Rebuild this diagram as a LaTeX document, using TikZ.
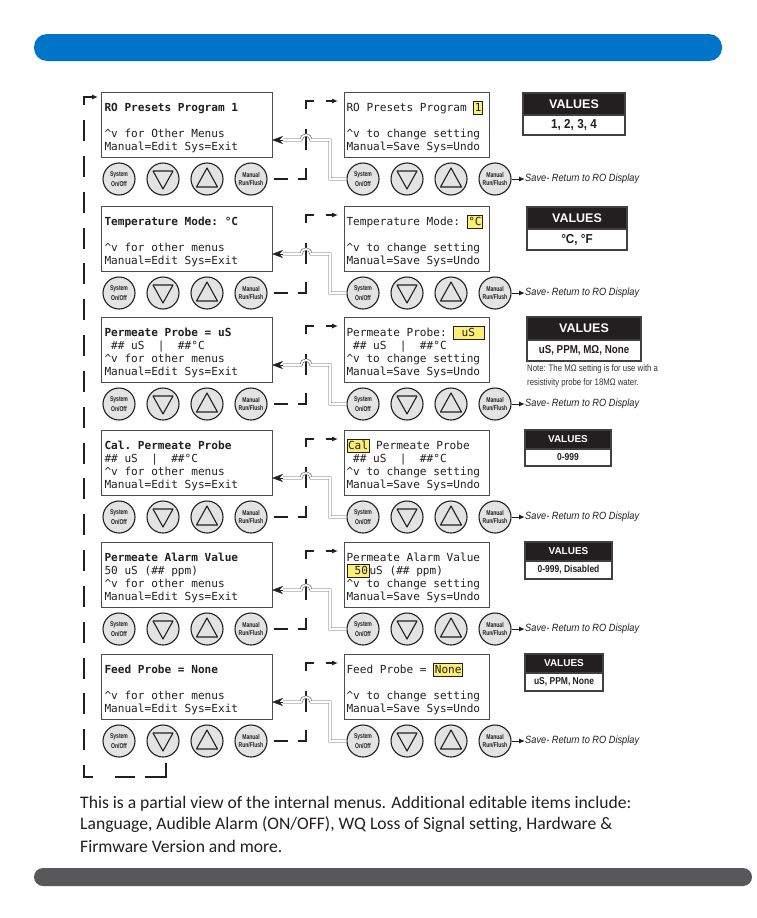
\documentclass[tikz,border=0pt]{standalone}
\usepackage{fontspec}
\setmainfont{Liberation Sans}
\newfontfamily\lcdfam{DejaVu Sans Mono}
\newfontfamily\bodyfam[Ligatures={NoCommon,NoRare,NoContextual}]{Carlito}
\usetikzlibrary{arrows.meta}
\definecolor{barblue}{HTML}{0074C8}
\definecolor{bargray}{HTML}{58585A}
\definecolor{hly}{HTML}{FBEF74}
\definecolor{btnfill}{HTML}{E3E3E3}
\definecolor{ink}{HTML}{231F20}
\definecolor{vdark}{HTML}{231F20}
\newcommand\lcdfont{\lcdfam\fontsize{11.1}{13}\selectfont}
\newcommand\lcdsp{\spaceskip=6.68pt\relax\xspaceskip=6.68pt\relax}
\newcommand\hl[1]{{\setlength\fboxsep{0.8pt}\setlength\fboxrule{0.7pt}\fcolorbox{ink}{hly}{\vphantom{Hg}#1}}}
\newcommand\cnd[2][0.85]{\scalebox{#1}[1]{#2}}
\newcommand\btnlab[2]{\cnd[0.72]{\shortstack{#1\\#2}}}
\newcommand\fl{\rule{0pt}{15pt}}
\newcommand\lastl{\rule[-3pt]{0pt}{3pt}}
\newcommand\vhbig{\bfseries\fontsize{12.5}{12.5}\selectfont}
\newcommand\vhsmall{\bfseries\fontsize{10}{10}\selectfont}
\newcommand\vvbig{\bfseries\fontsize{13}{13}\selectfont}
\newcommand\vvmid{\bfseries\fontsize{11.5}{11.5}\selectfont}
\newcommand\vvsmall{\bfseries\fontsize{10}{10}\selectfont}
\newcommand\downtri[1]{\draw[tri] ([shift={(-10,-8)}]#1.center) -- ([shift={(10,-8)}]#1.center) -- ([shift={(0,10)}]#1.center) -- cycle;}
\newcommand\uptri[1]{\draw[tri] ([shift={(-10.5,8)}]#1.center) -- ([shift={(10.5,8)}]#1.center) -- ([shift={(0,-11)}]#1.center) -- cycle;}
\newcommand\menurow[2]{%
 \node[btn] (L#1a) at (119,#2+87) {\btnlab{System}{On/Off}};
 \node[btn] (L#1b) at (163,#2+87) {};
 \node[btn] (L#1c) at (207,#2+87) {};
 \node[btn] (L#1d) at (251,#2+87) {\btnlab{Manual}{Run/Flush}};
 \node[btn] (R#1a) at (363,#2+87) {\btnlab{System}{On/Off}};
 \node[btn] (R#1b) at (407,#2+87) {};
 \node[btn] (R#1c) at (451,#2+87) {};
 \node[btn] (R#1d) at (495,#2+87) {\btnlab{Manual}{Run/Flush}};
 \downtri{L#1b}\uptri{L#1c}\downtri{R#1b}\uptri{R#1c}
 \coordinate (in#1) at (338,#2+9);
 \draw[brk] (L#1d.east) -- (306,#2+87) -- (306,#2+9) -- (in#1);
 \coordinate (h#1) at (283,#2+48);
 \draw[dbl] (R#1a.west) -- (330,#2+87) -- (330,#2+48) -- (311,#2+48) arc[start angle=0,end angle=180,radius=5pt] -- (h#1);
 \draw[tipst] (h#1) -- (h#1 -| L#1.east);
 \node[savetxt] (S#1) at (525,#2+87) {\cnd[0.88]{Save- Return to RO Display}};
 \draw[savearr] (R#1d.east) -- (S#1.west);
}
\begin{document}
\begin{tikzpicture}[x=1pt,y=-1pt,
 lpan/.style={draw=black!70, line width=0.9pt, anchor=north west, minimum height=65pt, text width=164pt, inner xsep=3.5pt, inner ysep=0pt, align=left, font=\lcdfont, text=ink, outer sep=0pt},
 rpan/.style={lpan, text width=140pt, inner xsep=2.5pt},
 btn/.style={circle, draw=ink, line width=1.1pt, fill=btnfill, minimum size=32pt, inner sep=0pt, font=\bfseries\fontsize{7}{7.4}\selectfont, text=ink},
 tri/.style={draw=ink, line width=1.1pt, line join=round, fill=btnfill},
 brk/.style={draw=ink, line width=1.1pt, dash pattern=on 14 off 10 on 19 off 18 on 21 off 20 on 16 off 12 on 14 off 6, dash phase=144, -{Latex[length=6pt,width=5pt]}},
 dbl/.style={draw=black!65, line width=0.6pt, double=white, double distance=1.7pt},
 tipst/.style={-{Stealth[length=11pt,width=8pt]}, line width=0.5pt, draw=ink},
 savetxt/.style={anchor=west, inner sep=0pt, font=\itshape\fontsize{10.5}{10.5}\selectfont, text=ink},
 savearr/.style={-{Latex[length=6pt,width=5pt]}, line width=1pt, draw=ink},
 vh/.style={anchor=north west, fill=vdark, text=white, draw=black!75, line width=1.4pt, inner sep=0pt, outer sep=0pt},
 vv/.style={anchor=north west, fill=white, text=ink, draw=black!75, line width=1.4pt, inner sep=0pt, outer sep=0pt},
 note/.style={anchor=west, inner sep=0pt, font=\fontsize{9.5}{9.5}\selectfont, text=black!80},
 bodytxt/.style={anchor=west, inner sep=0pt, font=\bodyfam\fontsize{17.6}{21}\selectfont, text=ink},
 loopline/.style={draw=ink, line width=1.1pt, -{Latex[length=6pt,width=5pt]},
   dash pattern=on 35 off 10 on 20 off 22 on 21 off 14.83 on 21 off 14.83 on 21 off 14.83 on 21 off 14.83 on 21 off 14.83 on 21 off 14.83 on 21 off 14.83 on 21 off 14.83 on 21 off 14.83 on 21 off 14.83 on 21 off 14.83 on 21 off 14.83 on 21 off 14.83 on 21 off 14.83 on 21 off 14.83 on 21 off 14.83 on 21 off 14.83 on 21 off 14.83 on 21 off 14.83 on 21 off 50}
]
\useasboundingbox (0,0) rectangle (756,918);
\fill[white] (0,0) rectangle (756,918);
% bars
\fill[barblue, rounded corners=13pt] (34,34) rectangle (722,61);
\fill[bargray, rounded corners=9pt] (34,868) rectangle (752,886);

% left panels
\node[lpan] (L1) at (101,92) {\lcdsp{\bfseries\fl RO Presets Program 1}\\ \mbox{}\\ \textasciicircum v for Other Menus\\ Manual=Edit Sys=Exit\lastl};
\node[lpan] (L2) at (101,206) {\lcdsp{\bfseries\fl Temperature Mode: °C}\\ \mbox{}\\ \textasciicircum v for other menus\\ Manual=Edit Sys=Exit\lastl};
\node[lpan] (L3) at (101,317) {\lcdsp{\bfseries\fl Permeate Probe = uS}\\ ~\#\# uS~~|~~\#\#°C\\ \textasciicircum v for other menus\\ Manual=Edit Sys=Exit\lastl};
\node[lpan] (L4) at (101,430) {\lcdsp{\bfseries\fl Cal. Permeate Probe}\\ \#\# uS~~|~~\#\#°C\\ \textasciicircum v for other menus\\ Manual=Edit Sys=Exit\lastl};
\node[lpan] (L5) at (101,542) {\lcdsp{\bfseries\fl Permeate Alarm Value}\\ 50 uS (\#\# ppm)\\ \textasciicircum v for other menus\\ Manual=Edit Sys=Exit\lastl};
\node[lpan] (L6) at (101,654) {\lcdsp{\bfseries\fl Feed Probe = None}\\ \mbox{}\\ \textasciicircum v for other menus\\ Manual=Edit Sys=Exit\lastl};

% right panels
\node[rpan] (R1) at (344,92) {\lcdsp\fl RO Presets Program \hl{1}\\ \mbox{}\\ \textasciicircum v to change setting\\ Manual=Save Sys=Undo\lastl};
\node[rpan] (R2) at (344,206) {\lcdsp\fl Temperature Mode: \hl{°C}\\ \mbox{}\\ \textasciicircum v to change setting\\ Manual=Save Sys=Undo\lastl};
\node[rpan] (R3) at (344,317) {\lcdsp\fl Permeate Probe: \hl{~uS~\kern2pt}\\ ~\#\# uS~~|~~\#\#°C\\ \textasciicircum v to change setting\\ Manual=Save Sys=Undo\lastl};
\node[rpan] (R4) at (344,430) {\lcdsp\fl \hl{Cal} Permeate Probe\\ ~\#\# uS~~|~~\#\#°C\\ \textasciicircum v to change setting\\ Manual=Save Sys=Undo\lastl};
\node[rpan] (R5) at (344,542) {\lcdsp\fl Permeate Alarm Value\\ \hl{~50}uS (\#\# ppm)\\ \textasciicircum v to change setting\\ Manual=Save Sys=Undo\lastl};
\node[rpan] (R6) at (344,654) {\lcdsp\fl Feed Probe = \hl{None}\\ \mbox{}\\ \textasciicircum v to change setting\\ Manual=Save Sys=Undo\lastl};

% values boxes
\node[vh, minimum width=102pt, minimum height=22pt, font=\vhbig] (V1h) at (523,93) {VALUES};
\node[vv, minimum width=102pt, minimum height=20pt, font=\vvbig] (V1) at (V1h.south west) {\cnd[0.9]{1, 2, 3, 4}};
\node[vh, minimum width=100pt, minimum height=22pt, font=\vhbig] (V2h) at (527,207) {VALUES};
\node[vv, minimum width=100pt, minimum height=21pt, font=\vvbig] (V2) at (V2h.south west) {\cnd[0.9]{°C, °F}};
\node[vh, minimum width=114pt, minimum height=23pt, font=\vhbig] (V3h) at (527,317) {VALUES};
\node[vv, minimum width=114pt, minimum height=21pt, font=\vvmid] (V3) at (V3h.south west) {\cnd[0.85]{uS, PPM, MΩ, None}};
\node[note] (N1) at (527,369) {\cnd[0.82]{Note: The MΩ setting is for use with a}};
\node[note] (N2) at (527,383) {\cnd[0.82]{resistivity probe for 18MΩ water.}};
\node[vh, minimum width=86pt, minimum height=19pt, font=\vhsmall] (V4h) at (525,430) {VALUES};
\node[vv, minimum width=86pt, minimum height=17pt, font=\vvsmall] (V4) at (V4h.south west) {\cnd{0-999}};
\node[vh, minimum width=87pt, minimum height=19pt, font=\vhsmall] (V5h) at (525,542) {VALUES};
\node[vv, minimum width=87pt, minimum height=18pt, font=\vvsmall] (V5) at (V5h.south west) {\cnd{0-999, Disabled}};
\node[vh, minimum width=78pt, minimum height=19pt, font=\vhsmall] (V6h) at (525,654) {VALUES};
\node[vv, minimum width=78pt, minimum height=18pt, font=\vvsmall] (V6) at (V6h.south west) {\cnd{uS, PPM, None}};

% rows of buttons and links
\menurow{1}{92}
\menurow{2}{206}
\menurow{3}{317}
\menurow{4}{430}
\menurow{5}{542}
\menurow{6}{654}

% big loop back to the first menu
\coordinate (loopstart) at (166,763);
\coordinate (loopend) at (98,97);
\draw[loopline] (loopstart) -- (166,777) -- (84,777) -- (84,97) -- (loopend);

% bottom text
\node[bodytxt] (t1) at (80,804) {This is a partial view of the internal menus. Additional editable items include:};
\node[bodytxt] (t2) at (80,825) {Language, Audible Alarm (ON/OFF), WQ Loss of Signal setting, Hardware \&};
\node[bodytxt] (t3) at (80,846) {Firmware Version and more.};
\end{tikzpicture}
\end{document}
